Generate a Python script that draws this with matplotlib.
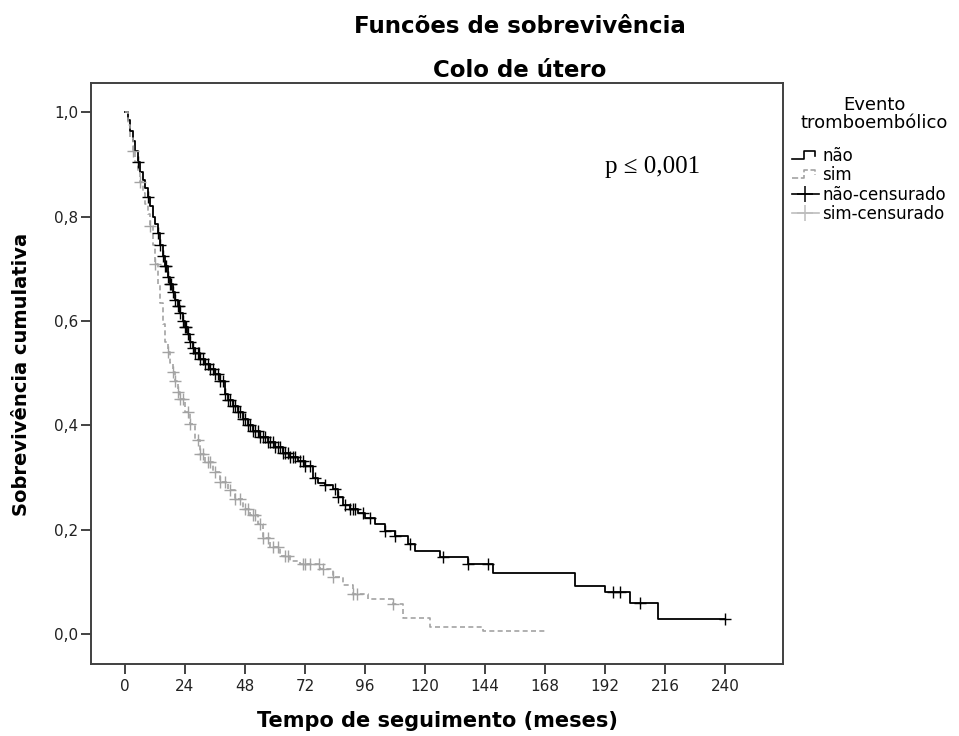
import numpy as np
import matplotlib.pyplot as plt
from matplotlib.lines import Line2D

# Kaplan-Meier curves (time in months, cumulative survival)
nao_t = [0, 1, 2, 3, 4, 5, 6, 7, 8, 9, 10, 11, 12, 13, 14, 15, 16, 17, 18, 19,
         20, 21, 22, 23, 24, 25, 26, 27, 28, 30, 32, 34, 36, 38, 40, 41, 43, 45,
         47, 49, 51, 54, 57, 60, 63, 66, 69, 72, 75, 77, 80, 83, 85, 87, 90, 93,
         96, 100, 104, 108, 113, 116, 126, 137, 147, 180, 192, 202, 213, 240]
nao_s = [1.000, 0.985, 0.965, 0.945, 0.925, 0.905, 0.885, 0.870, 0.855, 0.838,
         0.820, 0.800, 0.785, 0.768, 0.745, 0.725, 0.705, 0.685, 0.670, 0.655,
         0.640, 0.628, 0.615, 0.600, 0.588, 0.575, 0.560, 0.548, 0.538, 0.528,
         0.518, 0.508, 0.498, 0.485, 0.460, 0.448, 0.438, 0.425, 0.413, 0.400,
         0.390, 0.378, 0.368, 0.358, 0.348, 0.340, 0.332, 0.322, 0.300, 0.290,
         0.285, 0.278, 0.262, 0.248, 0.240, 0.232, 0.222, 0.212, 0.198, 0.188,
         0.172, 0.160, 0.148, 0.134, 0.118, 0.093, 0.080, 0.060, 0.030, 0.030]

sim_t = [0, 1, 2, 3, 4, 5, 6, 7, 8, 9, 10, 11, 12, 13, 14, 15, 16, 17, 18, 19,
         20, 21, 22, 24, 26, 28, 30, 32, 35, 38, 41, 44, 47, 50, 53, 55, 58, 62,
         66, 70, 78, 83, 87, 91, 97, 107, 111, 122, 143, 168]
sim_s = [1.000, 0.975, 0.950, 0.925, 0.905, 0.885, 0.866, 0.845, 0.825, 0.805,
         0.782, 0.745, 0.709, 0.670, 0.635, 0.595, 0.560, 0.540, 0.520, 0.502,
         0.485, 0.465, 0.450, 0.425, 0.402, 0.372, 0.345, 0.330, 0.310, 0.292,
         0.276, 0.260, 0.240, 0.228, 0.212, 0.185, 0.168, 0.150, 0.140, 0.134,
         0.125, 0.110, 0.095, 0.078, 0.067, 0.057, 0.032, 0.013, 0.006, 0.006]

# censored observations (months)
nao_cens = [5, 9, 13, 14, 15, 16, 16.5, 17, 18, 18.5, 19, 20, 21, 21.5, 22, 23,
            24, 24.5, 25, 26, 27, 28, 29, 29.5, 30, 31, 32, 33, 34, 35, 36, 37,
            38, 39, 40, 41, 42, 43, 44, 45, 46, 47, 48, 49, 50, 51, 52, 53, 54,
            55, 56, 57, 58, 59, 60, 61, 62, 63, 64, 65, 66, 67, 68, 70, 71, 72,
            74, 76, 80, 84, 85, 88, 90, 91, 92, 95, 98, 104, 108, 114, 127, 137,
            145, 195, 198, 206, 240]
sim_cens = [3, 6, 10, 12, 17, 19, 20, 21, 22, 23, 25, 26, 29, 30, 31, 33, 34,
            36, 38, 40, 42, 44, 46, 48, 49, 51, 52, 54, 55, 57, 59, 61, 64, 65,
            71, 72, 74, 77.5, 79, 83, 91, 92.7, 107]

x_ticks = [0, 24, 48, 72, 96, 120, 144, 168, 192, 216, 240]
y_ticks = [0.0, 0.2, 0.4, 0.6, 0.8, 1.0]


def surv_at(times, surv, t):
    idx = np.searchsorted(times, t, side="right") - 1
    return np.array(surv)[idx]


# legend icon drawn as a small step, like SPSS does
class StepHandler:
    def legend_artist(self, legend, orig_handle, fontsize, handlebox):
        x0, y0 = -handlebox.xdescent, -handlebox.ydescent
        w, h = handlebox.width, handlebox.height
        xs = [x0, x0 + 0.45 * w, x0 + 0.45 * w, x0 + 0.85 * w, x0 + 0.85 * w]
        ys = [y0 + 0.2 * h, y0 + 0.2 * h, y0 + 0.85 * h, y0 + 0.85 * h,
              y0 + 0.45 * h]
        line = Line2D(xs, ys, color=orig_handle.get_color(),
                      lw=orig_handle.get_linewidth(),
                      linestyle=orig_handle.get_linestyle(),
                      transform=handlebox.get_transform())
        handlebox.add_artist(line)
        return line


plt.rcParams["font.family"] = ["DejaVu Sans"]

W, H = 959, 736
fig = plt.figure(figsize=(W / 100, H / 100), dpi=100)
ax = fig.add_axes([91 / W, 1 - 664 / H, 692 / W, 581 / H])

grey = "#a3a3a3"
ax.step(nao_t, nao_s, where="post", color="black", lw=1.3)
ax.step(sim_t, sim_s, where="post", color=grey, lw=1.2, linestyle=(0, (3, 2)))
ax.plot(nao_cens, surv_at(nao_t, nao_s, nao_cens), "+", color="black",
        ms=8, mew=1.0)
ax.plot(sim_cens, surv_at(sim_t, sim_s, sim_cens), "+", color=grey,
        ms=8, mew=1.0)

ax.set_xlim(-13.6, 263.2)
ax.set_ylim(-0.057, 1.056)
ax.set_xticks(x_ticks)
ax.set_yticks(y_ticks)
ax.set_yticklabels([f"{v:.1f}".replace(".", ",") for v in y_ticks])
ax.tick_params(axis="both", direction="out", length=7, width=1.2,
               labelsize=11, colors="#222222")
ax.tick_params(axis="x", pad=4)
ax.tick_params(axis="y", pad=2)
for sp in ax.spines.values():
    sp.set_color("#404040")
    sp.set_linewidth(1.4)

fig.text(437 / W, 1 - 727 / H, "Tempo de seguimento (meses)", ha="center",
         va="baseline", fontsize=15, fontweight="bold")
fig.text(22 / W, 1 - 374 / H, "Sobrevivência cumulativa", ha="center",
         va="center", rotation=90, fontsize=14, fontweight="bold")

fig.text(520 / W, 1 - 33 / H, "Funcões de sobrevivência", ha="center",
         va="baseline", fontsize=16.5, fontweight="bold")
fig.text(520 / W, 1 - 77 / H, "Colo de útero", ha="center",
         va="baseline", fontsize=16.5, fontweight="bold")

ax.text(0.743, 0.855, "p ≤ 0,001", transform=ax.transAxes, fontsize=18,
        family=["Liberation Serif", "DejaVu Serif"], va="center")

# legend
fig.text(874 / W, 1 - 114 / H, "Evento\ntromboembólico", ha="center",
         va="center", multialignment="center", fontsize=13, linespacing=1.05)
h_nao = Line2D([], [], color="black", lw=1.2)
h_sim = Line2D([], [], color=grey, lw=1.2, linestyle=(0, (2, 2)))
handles = [
    h_nao,
    h_sim,
    Line2D([], [], color="black", lw=1.2, marker="+", ms=11, mew=1.1),
    Line2D([], [], color="#bdbdbd", lw=1.2, marker="+", ms=11, mew=1.1),
]
labels = ["não", "sim", "não-censurado", "sim-censurado"]
leg = fig.legend(handles, labels, loc="upper left",
                 bbox_to_anchor=(792 / W, 1 - 147 / H),
                 handler_map={h_nao: StepHandler(), h_sim: StepHandler()},
                 frameon=False, fontsize=12, handlelength=1.6,
                 handletextpad=0.2, labelspacing=0.08,
                 borderaxespad=0, borderpad=0)

fig.savefig("out.png", dpi=100)
